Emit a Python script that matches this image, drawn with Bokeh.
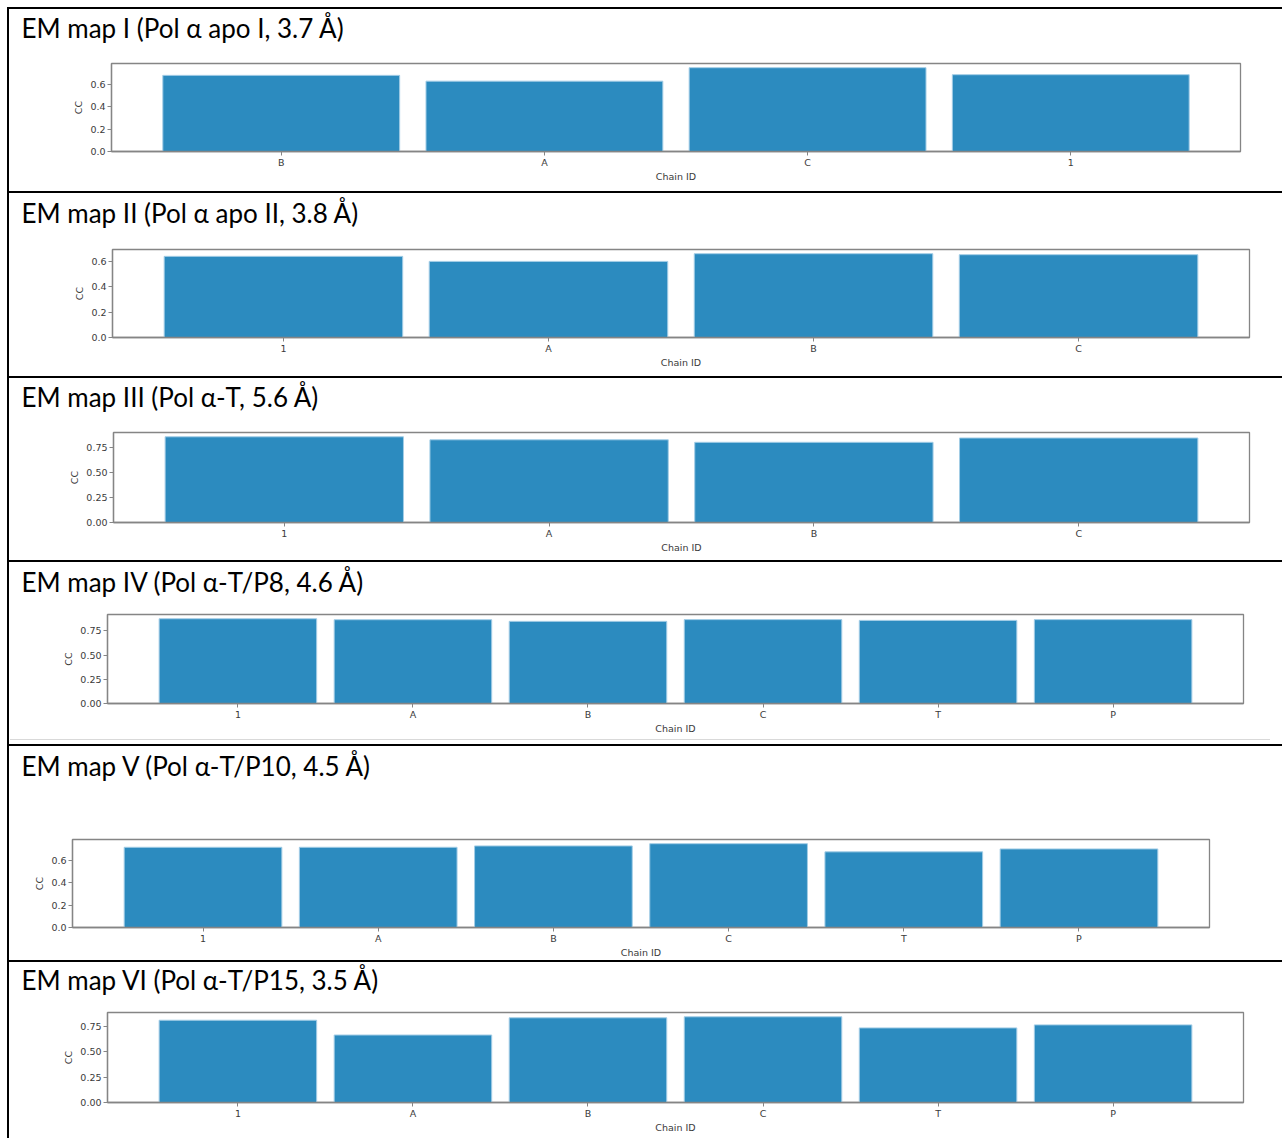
from bokeh.plotting import figure
from bokeh.layouts import column, row
from bokeh.models import Spacer, FactorRange, Range1d, FixedTicker
from bokeh.embed import file_html
from bokeh.resources import INLINE

# ---------------- data ----------------
titles = [
    "EM map I (Pol α apo I, 3.7 Å)",
    "EM map II (Pol α apo II, 3.8 Å)",
    "EM map III (Pol α-T, 5.6 Å)",
    "EM map IV (Pol α-T/P8, 4.6 Å)",
    "EM map V (Pol α-T/P10, 4.5 Å)",
    "EM map VI (Pol α-T/P15, 3.5 Å)",
]
chains_1 = ["B", "A", "C", "1"]
cc_1 = [0.684, 0.632, 0.753, 0.690]
chains_2 = ["1", "A", "B", "C"]
cc_2 = [0.642, 0.602, 0.663, 0.655]
chains_3 = ["1", "A", "B", "C"]
cc_3 = [0.855, 0.825, 0.800, 0.843]
chains_4 = ["1", "A", "B", "C", "T", "P"]
cc_4 = [0.875, 0.865, 0.848, 0.866, 0.858, 0.866]
chains_5 = ["1", "A", "B", "C", "T", "P"]
cc_5 = [0.718, 0.718, 0.730, 0.750, 0.677, 0.703]
chains_6 = ["1", "A", "B", "C", "T", "P"]
cc_6 = [0.813, 0.667, 0.837, 0.847, 0.737, 0.767]

ticks_a = [0.0, 0.2, 0.4, 0.6]
tick_labels_a = ["0.0", "0.2", "0.4", "0.6"]
ticks_b = [0.0, 0.25, 0.5, 0.75]
tick_labels_b = ["0.00", "0.25", "0.50", "0.75"]

x_label = "Chain ID"
y_label = "CC"

# ---------------- layout (cell geometry) ----------------
W = 1273
H1 = 45  # height of the title strip at the top of every cell
# (cell height, border_top, border_bottom, border_left, border_right, title_standoff)
geom = [
    (182, 54, 40, 102, 42, 5),
    (183, 56, 39, 103, 33, 7),
    (182, 54, 38, 104, 33, 5),
    (177, 52, 36, 98, 39, 7),
    (214, 93, 32, 63, 73, 7),
    (176, 50, 36, 98, 39, 3),
]

BAR = "#2c8bbf"
EDGE = "#a3cde6"
GRAY = "#858585"
TXT = "#3a3a3a"


def make_title(title, ts):
    t = figure(width=W, height=H1, toolbar_location=None, output_backend="svg",
               x_axis_type=None, y_axis_type=None, min_border=0, title=title)
    t.outline_line_color = None
    t.background_fill_color = "white"
    t.border_fill_color = "white"
    t.title.text_font = "Lato"
    t.title.text_font_size = "26px"
    t.title.text_font_style = "normal"
    t.title.text_color = "#000000"
    t.title.align = "left"
    t.title.vertical_align = "top"
    t.title.offset = 12
    t.title.standoff = ts
    return t


def make_panel(title, chains, cc, ticks, tick_labels, g):
    h, bt, bb, bl, br, ts = g
    n = len(chains)
    pad = 0.05 * n - 0.055
    p = figure(
        width=W, height=h - H1,
        x_range=FactorRange(factors=chains, range_padding=pad,
                            range_padding_units="absolute"),
        y_range=Range1d(0, max(cc) * 1.05),
        output_backend="svg", toolbar_location=None,
        min_border_left=bl, min_border_right=br,
        min_border_top=bt - H1, min_border_bottom=bb,
    )
    p.vbar(x=chains, top=cc, width=0.9, bottom=0,
           fill_color=BAR, line_color=EDGE, line_width=1)

    p.xgrid.visible = False
    p.ygrid.visible = False
    p.outline_line_color = GRAY
    p.outline_line_width = 1.3
    p.background_fill_color = "white"
    p.border_fill_color = "white"

    p.yaxis.ticker = FixedTicker(ticks=ticks)
    p.yaxis.major_label_overrides = {t: l for t, l in zip(ticks, tick_labels)}
    p.yaxis.axis_label = y_label
    p.xaxis.axis_label = x_label
    for ax in (p.xaxis, p.yaxis):
        ax.axis_line_color = GRAY
        ax.axis_line_width = 1.3
        ax.major_tick_line_color = GRAY
        ax.major_tick_out = 4
        ax.major_tick_in = 0
        ax.minor_tick_line_color = None
        ax.major_label_text_font = "DejaVu Sans"
        ax.major_label_text_font_size = "9.5px"
        ax.major_label_text_color = TXT
        ax.axis_label_text_font = "DejaVu Sans"
        ax.axis_label_text_font_size = "9.5px"
        ax.axis_label_text_font_style = "normal"
        ax.axis_label_text_color = TXT
    p.xaxis.major_label_standoff = 1
    p.xaxis.axis_label_standoff = 0
    p.yaxis.major_label_standoff = 2
    p.yaxis.axis_label_standoff = 3
    return column(make_title(title, ts), row(p), spacing=0)


cells = [
    make_panel(titles[0], chains_1, cc_1, ticks_a, tick_labels_a, geom[0]),
    make_panel(titles[1], chains_2, cc_2, ticks_a, tick_labels_a, geom[1]),
    make_panel(titles[2], chains_3, cc_3, ticks_b, tick_labels_b, geom[2]),
    make_panel(titles[3], chains_4, cc_4, ticks_b, tick_labels_b, geom[3]),
    make_panel(titles[4], chains_5, cc_5, ticks_a, tick_labels_a, geom[4]),
    make_panel(titles[5], chains_6, cc_6, ticks_b, tick_labels_b, geom[5]),
]

BLACK = {"background-color": "#000000"}
LIGHT = {"background-color": "#d9d9d9"}
items = []
for i, c in enumerate(cells):
    items.append(Spacer(width=W, height=2, styles=BLACK))
    if i == 3:
        # thin light separator at the foot of the fourth image
        items.append(column(
            c,
            row(Spacer(width=1, height=1), Spacer(width=1260, height=1, styles=LIGHT)),
            Spacer(width=W, height=4),
            spacing=0,
        ))
    else:
        items.append(c)
inner = column(*items, spacing=0)
total_h = 182 + 183 + 182 + 182 + 214 + 176 + 2 * len(geom)

root = column(
    Spacer(width=7 + 2 + W, height=7),
    row(Spacer(width=7, height=total_h),
        Spacer(width=2, height=total_h, styles=BLACK),
        inner, spacing=0),
    spacing=0,
)

open("out.html", "w").write(file_html(root, INLINE))
